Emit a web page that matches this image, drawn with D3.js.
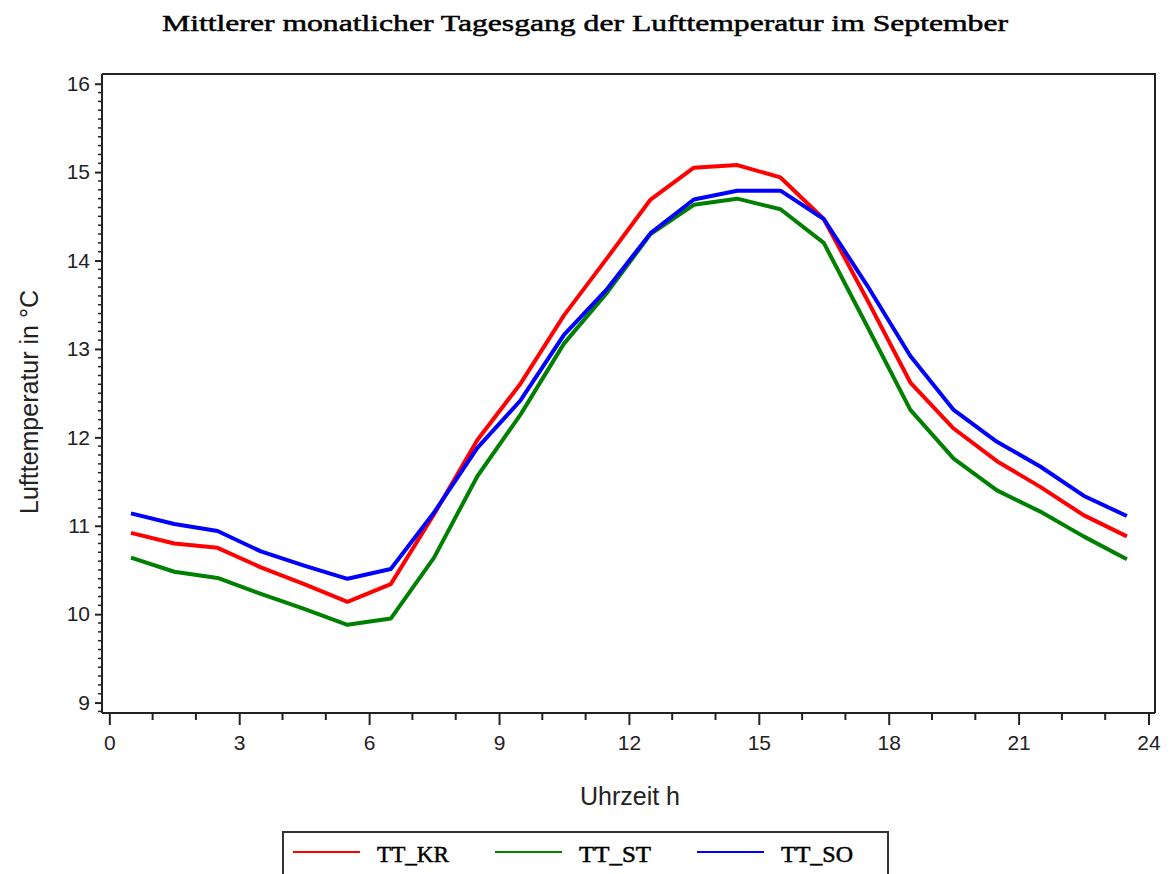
<!DOCTYPE html>
<html><head><meta charset="utf-8">
<script src="https://cdn.jsdelivr.net/npm/d3@7"></script>
<style>
html,body{margin:0;padding:0;background:#fff;}
svg{display:block;}
</style></head>
<body>
<script>
const title = "Mittlerer monatlicher Tagesgang der Lufttemperatur im September";
const xLabel = "Uhrzeit h";
const yLabel = "Lufttemperatur in °C";
const hours = [0.5,1.5,2.5,3.5,4.5,5.5,6.5,7.5,8.5,9.5,10.5,11.5,12.5,13.5,14.5,15.5,16.5,17.5,18.5,19.5,20.5,21.5,22.5,23.5];
const seriesNames = ["TT_KR","TT_ST","TT_SO"];
const seriesColors = ["#ff0000","#008000","#0000ff"];
const TT_KR = [10.92,10.80,10.75,10.53,10.34,10.14,10.34,11.13,11.97,12.61,13.38,14.03,14.69,15.05,15.08,14.94,14.47,13.56,12.62,12.10,11.73,11.44,11.12,10.88];
const TT_ST = [10.64,10.48,10.41,10.23,10.06,9.88,9.95,10.64,11.56,12.26,13.06,13.64,14.30,14.63,14.70,14.58,14.20,13.26,12.31,11.76,11.40,11.16,10.88,10.62];
const TT_SO = [11.14,11.02,10.94,10.71,10.55,10.40,10.51,11.15,11.88,12.42,13.16,13.68,14.31,14.69,14.79,14.79,14.47,13.72,12.92,12.31,11.95,11.67,11.34,11.11];
const xTicks = [0,3,6,9,12,15,18,21,24];
const yTicks = [9,10,11,12,13,14,15,16];

(function(){
const W = 1170, H = 874;
const svg = d3.select("body").append("svg").attr("width", W).attr("height", H);

const pl = 102, pr = 1155, pt = 74, pb = 713;
const x = d3.scaleLinear().domain([-0.169, 24.15]).range([pl, pr]);
const y = d3.scaleLinear().domain([8.882, 16.11]).range([pb, pt]);

// title
svg.append("text").attr("x", 585).attr("y", 31).attr("text-anchor","middle")
  .attr("font-family","Liberation Serif, DejaVu Serif, serif")
  .attr("font-size", 23).attr("textLength", 846).attr("lengthAdjust","spacingAndGlyphs")
  .attr("fill","#000").attr("stroke","#000").attr("stroke-width",0.5).text(title);

// frame (top and right)
svg.append("path").attr("d", `M${pl},${pt}H${pr}V${pb}`).attr("fill","none")
  .attr("stroke","#222").attr("stroke-width",2);

// y axis
const yAxisG = svg.append("g").attr("transform", `translate(${pl},0)`);
yAxisG.call(d3.axisLeft(y).tickValues(yTicks).tickSize(7).tickPadding(5).tickFormat(d3.format("d")));
const yMinor = d3.range(89, 161).map(v => v/10).filter(v => Math.abs(v - Math.round(v)) > 1e-6);
yAxisG.selectAll(".minor").data(yMinor).enter().append("line").attr("class","minor")
  .attr("x1",-4).attr("x2",0).attr("y1",d=>y(d)).attr("y2",d=>y(d)).attr("stroke","#222").attr("stroke-width",1.5);

// x axis
const xAxisG = svg.append("g").attr("transform", `translate(0,${pb})`);
xAxisG.call(d3.axisBottom(x).tickValues(xTicks).tickSize(12).tickPadding(10).tickFormat(d3.format("d")));
const xMinor = d3.range(0, 25).filter(v => v % 3 !== 0);
xAxisG.selectAll(".minor").data(xMinor).enter().append("line").attr("class","minor")
  .attr("x1",d=>x(d)).attr("x2",d=>x(d)).attr("y1",0).attr("y2",7).attr("stroke","#222").attr("stroke-width",2);

[yAxisG, xAxisG].forEach(g => {
  g.select(".domain").attr("stroke","#222").attr("stroke-width",2);
  g.selectAll(".tick line").attr("stroke","#222").attr("stroke-width",2);
  g.selectAll(".tick text").attr("font-family","Liberation Sans, Arial, sans-serif").attr("font-size",21).attr("fill","#222");
});
yAxisG.select(".domain").attr("d", `M0,${pb}V${pt}`);
xAxisG.select(".domain").attr("d", `M${pl},0H${pr}`);

// axis labels
svg.append("text").attr("x", 630).attr("y", 805).attr("text-anchor","middle")
  .attr("font-family","Liberation Sans, Arial, sans-serif").attr("font-size",25).attr("fill","#222").text(xLabel);
svg.append("text").attr("transform","translate(38,402) rotate(-90)").attr("text-anchor","middle")
  .attr("font-family","Liberation Sans, Arial, sans-serif").attr("font-size",25).attr("fill","#222").text(yLabel);

// lines
const data = [TT_KR, TT_ST, TT_SO];
const line = d3.line().x((d,i)=>x(hours[i])).y(d=>y(d));
data.forEach((s, k) => {
  svg.append("path").datum(s).attr("d", line).attr("fill","none")
    .attr("stroke", seriesColors[k]).attr("stroke-width",4).attr("stroke-linejoin","round");
});

// legend
const lg = svg.append("g");
lg.append("rect").attr("x",283).attr("y",832).attr("width",605).attr("height",60)
  .attr("fill","none").attr("stroke","#333").attr("stroke-width",2);
const legX = [293, 495, 697];
seriesNames.forEach((n,k) => {
  lg.append("line").attr("x1",legX[k]).attr("x2",legX[k]+67).attr("y1",852).attr("y2",852)
    .attr("stroke",seriesColors[k]).attr("stroke-width",2);
  lg.append("text").attr("x",legX[k]+84).attr("y",862)
    .attr("font-family","Liberation Serif, DejaVu Serif, serif")
    .attr("font-size",23).attr("textLength",72).attr("lengthAdjust","spacingAndGlyphs")
    .attr("fill","#000").attr("stroke","#000").attr("stroke-width",0.5).text(n);
});
})();
</script>
</body></html>
